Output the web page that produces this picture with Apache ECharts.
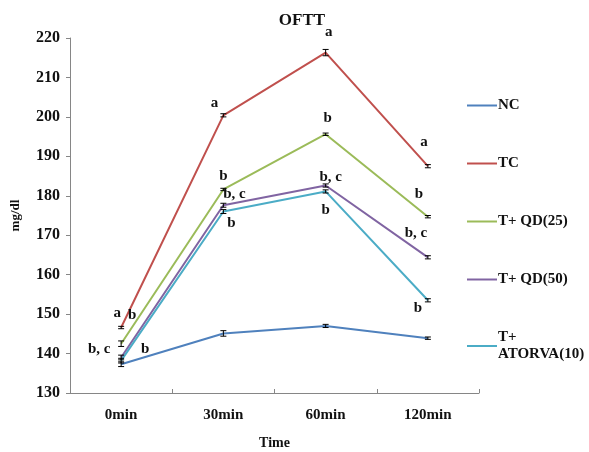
<!DOCTYPE html>
<html>
<head>
<meta charset="utf-8">
<script src="https://cdn.jsdelivr.net/npm/echarts@6/dist/echarts.min.js"></script>
<style>
  html, body { margin: 0; padding: 0; background: #fff; }
  #chart { width: 589px; height: 452px; }
</style>
</head>
<body>
<div id="chart"></div>
<script>
// 数据
var times = ['0min', '30min', '60min', '120min'];
var names = ['NC', 'TC', 'T+ QD(25)', 'T+ QD(50)', 'T+ ATORVA(10)'];
var colors = ['#4F81BD', '#C0504D', '#9BBB59', '#8064A2', '#4BACC6'];

var ncVals = [137.3, 145.1, 147.0, 143.9];
var tcVals = [146.6, 200.4, 216.3, 187.5];
var qd25Vals = [142.5, 181.6, 195.6, 174.7];
var qd50Vals = [139.0, 177.6, 182.6, 164.4];
var atorvaVals = [138.2, 176.0, 181.1, 153.5];

var ncErr = [0.6, 0.7, 0.4, 0.3];
var tcErr = [0.3, 0.4, 0.8, 0.4];
var qd25Err = [0.7, 0.3, 0.3, 0.3];
var qd50Err = [0.6, 0.5, 0.4, 0.4];
var atorvaErr = [0.6, 0.5, 0.4, 0.4];

// 显著性字母
var ncMarks = ['', '', '', ''];
var tcMarks = ['a', 'a', 'a', 'a'];
var qd25Marks = ['b', 'b', 'b', 'b'];
var qd50Marks = ['b, c', 'b, c', 'b, c', 'b, c'];
var atorvaMarks = ['b', 'b', 'b', 'b'];

var allVals = [ncVals, tcVals, qd25Vals, qd50Vals, atorvaVals];
var allErr = [ncErr, tcErr, qd25Err, qd50Err, atorvaErr];
var allMarks = [ncMarks, tcMarks, qd25Marks, qd50Marks, atorvaMarks];
// 字母相对于点的偏移 (px)
var markOffsets = [
    [[0, 0], [0, 0], [0, 0], [0, 0]],
    [[-4, -14], [-9, -12], [3, -20], [-4, -24]],
    [[11, -29], [0, -13], [2, -16], [-9, -23]],
    [[-22, -8], [11, -11], [5, -8], [-12, -24]],
    [[24, -12], [8, 12], [0, 19], [-10, 8]]
];

var font = '"Liberation Serif", "Times New Roman", serif';

function errorSeries(k) {
    var data = [];
    for (var i = 0; i < times.length; i++) {
        data.push([i, allVals[k][i], allErr[k][i]]);
    }
    return {
        type: 'custom',
        z: 5,
        silent: true,
        data: data,
        renderItem: function (params, api) {
            var idx = api.value(0);
            var v = api.value(1);
            var e = api.value(2);
            var hi = api.coord([idx, v + e]);
            var lo = api.coord([idx, v - e]);
            var p = api.coord([idx, v]);
            var w = 3;
            var st = { stroke: '#000', lineWidth: 1 };
            var children = [
                { type: 'line', shape: { x1: hi[0], y1: hi[1], x2: lo[0], y2: lo[1] }, style: st },
                { type: 'line', shape: { x1: hi[0] - w, y1: hi[1], x2: hi[0] + w, y2: hi[1] }, style: st },
                { type: 'line', shape: { x1: lo[0] - w, y1: lo[1], x2: lo[0] + w, y2: lo[1] }, style: st }
            ];
            var txt = allMarks[k][params.dataIndex];
            if (txt) {
                var off = markOffsets[k][params.dataIndex];
                children.push({
                    type: 'text',
                    style: {
                        text: txt,
                        x: p[0] + off[0],
                        y: p[1] + off[1],
                        align: 'center',
                        verticalAlign: 'middle',
                        fill: '#111',
                        font: 'bold 15px ' + font
                    }
                });
            }
            return { type: 'group', children: children };
        }
    };
}

var series = [];
for (var k = 0; k < names.length; k++) {
    series.push({
        name: names[k],
        type: 'line',
        data: allVals[k],
        showSymbol: false,
        symbol: 'none',
        lineStyle: { width: 2, color: colors[k] },
        itemStyle: { color: colors[k] },
        z: 3
    });
}
for (var k = 0; k < names.length; k++) {
    series.push(errorSeries(k));
}

var option = {
    backgroundColor: '#fff',
    animation: false,
    title: {
        text: 'OFTT',
        left: 297,
        textAlign: 'center',
        top: 7,
        textStyle: { fontFamily: font, fontWeight: 'bold', fontSize: 17, color: '#111' }
    },
    legend: {
        orient: 'vertical',
        left: 462,
        top: 92,
        itemGap: 41,
        itemWidth: 30,
        itemHeight: 2,
        icon: 'rect',
        data: names,
        formatter: function (n) {
            return n === 'T+ ATORVA(10)' ? 'T+\nATORVA(10)' : n;
        },
        textStyle: { fontFamily: font, fontWeight: 'bold', fontSize: 15, color: '#111', padding: [0, 0, 0, -4], lineHeight: 17 }
    },
    grid: { left: 70, top: 38, right: 110, bottom: 59, containLabel: false, outerBoundsMode: 'none' },
    xAxis: {
        type: 'category',
        data: times,
        boundaryGap: true,
        name: 'Time',
        nameLocation: 'middle',
        nameGap: 43,
        nameTextStyle: { fontFamily: font, fontWeight: 'bold', fontSize: 14, color: '#111' },
        axisLine: { lineStyle: { color: '#868686', width: 1 } },
        axisTick: { show: true, length: 4, inside: true, lineStyle: { color: '#868686' } },
        axisLabel: { fontFamily: font, fontWeight: 'bold', fontSize: 15, color: '#111', margin: 15 }
    },
    yAxis: {
        type: 'value',
        min: 130,
        max: 220,
        interval: 10,
        name: 'mg/dl',
        nameLocation: 'middle',
        nameRotate: 90,
        nameGap: 48,
        nameTextStyle: { fontFamily: font, fontWeight: 'bold', fontSize: 13, color: '#111' },
        axisLine: { show: true, lineStyle: { color: '#868686', width: 1 } },
        axisTick: { show: true, length: 4, lineStyle: { color: '#868686' } },
        splitLine: { show: false },
        axisLabel: { fontFamily: font, fontWeight: 'bold', fontSize: 16, color: '#111', margin: 10 }
    },
    series: series
};

var myChart = echarts.init(document.getElementById('chart'));
myChart.setOption(option);
</script>
</body>
</html>
